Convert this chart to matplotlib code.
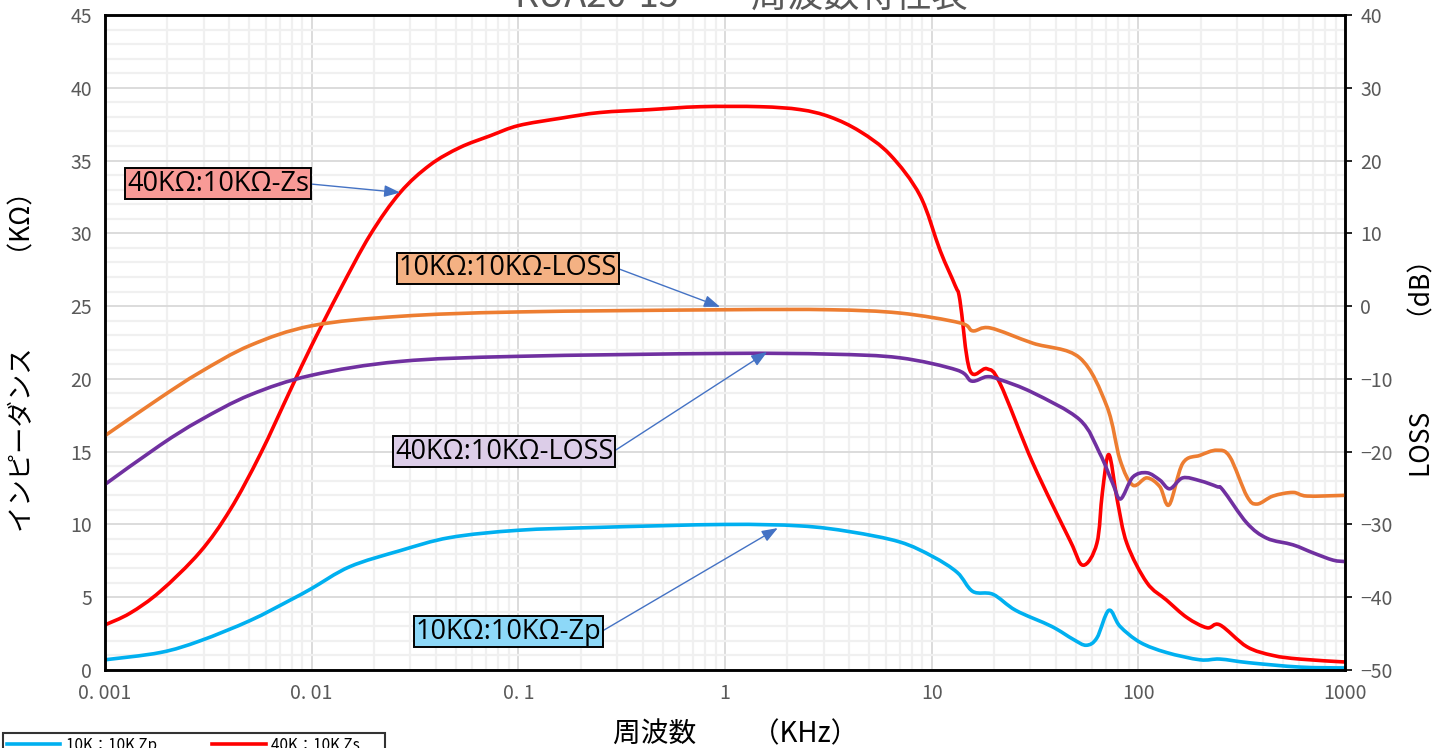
import matplotlib
matplotlib.use('Agg')
import numpy as np
import matplotlib.pyplot as plt
from matplotlib.path import Path
from matplotlib.patches import PathPatch
from matplotlib.lines import Line2D
from matplotlib.ticker import FixedLocator, NullFormatter

plt.rcParams['font.family'] = ['Noto Sans CJK JP', 'DejaVu Sans']

# 10K:10K Zp (kOhm, left axis)
zp_f = [0.001, 0.00185, 0.00288, 0.00504, 0.00787, 0.01, 0.0153, 0.0268, 0.0467, 0.1, 0.248,
        1.0, 2.31, 4.03, 7.0, 10.1, 13.3, 15.8, 19.8, 25.5, 38.0, 48.5, 56.0, 63.0, 72.0,
        81.5, 102, 137, 199, 248, 343, 605, 1000]
zp_v = [0.7, 1.2, 2.0, 3.4, 4.8, 5.6, 7.1, 8.2, 9.1, 9.6, 9.8,
        10.0, 9.9, 9.5, 8.8, 7.8, 6.7, 5.4, 5.2, 4.1, 3.0, 2.1, 1.7, 2.2, 4.1,
        3.0, 1.9, 1.2, 0.7, 0.75, 0.5, 0.2, 0.14]

# 40K:10K Zs (kOhm, left axis)
zs_f = [0.001, 0.00132, 0.00185, 0.00288, 0.00403, 0.00563, 0.00787, 0.01, 0.0137, 0.0192,
        0.0268, 0.0374, 0.0522, 0.073, 0.1, 0.159, 0.248, 0.433, 0.757, 1.48, 2.31, 3.22,
        4.5, 6.29, 8.78, 11.0, 13.0, 13.7, 15.3, 18.5, 21.4, 30.9, 46.7, 54.0, 63.0, 67.0,
        72.0, 79.0, 88.0, 110, 137, 172, 215, 248, 335, 448, 605, 1000]
zs_v = [3.1, 3.9, 5.4, 8.1, 11.0, 14.8, 19.2, 22.3, 26.1, 29.9,
        32.8, 34.7, 35.9, 36.7, 37.4, 37.9, 38.3, 38.5, 38.7, 38.7, 38.5, 38.0,
        37.0, 35.4, 32.6, 28.8, 26.4, 25.4, 20.6, 20.7, 19.7, 14.2, 8.9, 7.2, 8.7, 12.2,
        14.8, 11.7, 8.7, 6.0, 4.8, 3.6, 2.9, 3.1, 1.6, 1.0, 0.75, 0.55]

# 10K:10K LOSS (dB, right axis)
l10_f = [0.001, 0.00185, 0.00288, 0.00504, 0.01, 0.0268, 0.1, 1.0, 3.22, 7.0, 13.7, 15.8,
         19.2, 30.9, 52.0, 70.5, 81.5, 94.0, 110, 127, 141, 164, 199, 240, 277, 335, 375,
         448, 560, 655, 1000]
l10_v = [-17.8, -12.6, -9.1, -5.4, -2.7, -1.4, -0.8, -0.5, -0.5, -0.95, -2.3, -3.4,
         -3.0, -5.1, -7.1, -13.8, -21.1, -24.6, -23.6, -24.8, -27.3, -21.6, -20.5, -19.8,
         -20.7, -26.1, -27.2, -26.1, -25.6, -26.1, -26.0]

# 40K:10K LOSS (dB, right axis)
l40_f = [0.001, 0.00185, 0.00288, 0.00504, 0.01, 0.0268, 0.1, 1.0, 3.22, 7.0, 13.3, 15.6,
         18.5, 21.4, 30.9, 52.0, 65.0, 75.0, 82.0, 94.0, 110, 127, 142, 164, 199, 240, 257,
         335, 419, 560, 700, 874, 1000]
l40_v = [-24.5, -19.1, -15.7, -12.2, -9.5, -7.6, -6.9, -6.5, -6.6, -7.1, -8.8, -10.3,
         -9.7, -10.1, -11.9, -15.6, -20.2, -24.3, -26.5, -23.5, -22.9, -23.9, -25.1, -23.6,
         -24.0, -24.8, -25.3, -29.8, -31.9, -32.8, -33.9, -34.9, -35.1]

x_ticks = [0.001, 0.01, 0.1, 1, 10, 100, 1000]
x_labels = ['0. 001', '0. 01', '0. 1', '1', '10', '100', '1000']


def smooth_line(a, xs, ys, color, lw):
    # Excel-like smoothed line: Catmull-Rom bezier through the points (log-x space)
    pts = np.column_stack([np.log10(xs), ys])
    n = len(pts)
    verts = [pts[0]]
    codes = [Path.MOVETO]
    for i in range(n - 1):
        p0 = pts[max(i - 1, 0)]
        p1 = pts[i]
        p2 = pts[i + 1]
        p3 = pts[min(i + 2, n - 1)]
        verts += [p1 + (p2 - p0) / 6, p2 - (p3 - p1) / 6, p2]
        codes += [Path.CURVE4] * 3
    v = np.array(verts)
    v[:, 0] = 10 ** v[:, 0]
    a.add_patch(PathPatch(Path(v, codes), fill=False, ec=color, lw=lw,
                          capstyle='round', joinstyle='round'))


fig = plt.figure(figsize=(14.47, 7.48), dpi=100)
ax = fig.add_axes([105/1447, 1 - 670/748, 1240/1447, 655/748])
ax2 = ax.twinx()

ax.set_xscale('log')
ax.set_xlim(0.001, 1000)
ax.set_ylim(0, 45)
ax2.set_ylim(-50, 40)

# grid
ax.xaxis.set_major_locator(FixedLocator(x_ticks))
minors = [m * 10.0 ** e for e in range(-3, 3) for m in range(2, 10)]
ax.xaxis.set_minor_locator(FixedLocator(minors))
ax.xaxis.set_minor_formatter(NullFormatter())
ax.set_xticklabels(x_labels)
ax.set_yticks(range(0, 46, 5))
ax.set_yticks(range(0, 46), minor=True)
ax2.set_yticks(range(-50, 41, 10))
ax.grid(which='minor', color='#F0F0F0', lw=1.6)
ax.grid(which='major', color='#D9D9D9', lw=1.3)
ax.set_axisbelow(True)

ax.tick_params(which='both', left=False, bottom=False, labelsize=14, labelcolor='#595959', pad=6)
ax2.tick_params(right=True, length=5, width=1.2, labelsize=14, labelcolor='#595959', pad=6)
for a in (ax, ax2):
    for s in a.spines.values():
        s.set_linewidth(1.8)
        s.set_color('black')

lw = 2.6
c_zp, c_zs, c_l10, c_l40 = '#00B0F0', '#FF0000', '#ED7D31', '#7030A0'
smooth_line(ax, zp_f, zp_v, c_zp, lw)
smooth_line(ax, zs_f, zs_v, c_zs, lw)
smooth_line(ax2, l10_f, l10_v, c_l10, lw)
smooth_line(ax2, l40_f, l40_v, c_l40, lw)

ax.set_xlabel('周波数　　（KHz）', fontsize=20, labelpad=11)
ax.xaxis.label.set_x(0.509)
ax.set_ylabel('インピーダンス　　　（KΩ）', fontsize=19)
ax.yaxis.set_label_coords(-0.055, 0.481)
ax2.set_ylabel('LOSS　　　（dB）', fontsize=19)
ax2.yaxis.set_label_coords(1.052, 0.471)

fig.text(741/1447, 1 - 7/748, 'KUA20-15　　周波数特性表', ha='center', va='baseline',
         fontsize=26, color='#595959')

# callouts
box_font = ['Open Sans', 'DejaVu Sans']
arrow = dict(arrowstyle='-|>,head_length=0.8,head_width=0.3', color='#4472C4', lw=1.0,
             mutation_scale=12, relpos=(1, 0.5), shrinkA=0, shrinkB=0)
callouts = [
    (ax, '40KΩ:10KΩ-Zs', (0.0268, 32.8), (0.00352, 33.4), '#F89A96'),
    (ax2, '10KΩ:10KΩ-LOSS', (0.946, -0.1), (0.0891, 5.2), '#F4B183'),
    (ax2, '40KΩ:10KΩ-LOSS', (1.6, -6.3), (0.0853, -20.0), '#DCCDE8'),
    (ax, '10KΩ:10KΩ-Zp', (1.8, 9.75), (0.0897, 2.64), '#8DD8F8'),
]
for a, txt, tip, pos, fc in callouts:
    a.annotate(txt, xy=tip, xytext=pos, ha='center', va='center', fontsize=19.5,
               family=box_font, arrowprops=arrow,
               bbox=dict(boxstyle='square,pad=0.06', fc=fc, ec='black', lw=1.4))

handles = [Line2D([], [], color=c, lw=lw) for c in (c_zp, c_l10, c_zs, c_l40)]
labels = ['10K：10K Zp', '10K：10K LOSS', '40K：10K Zs', '40K：10K LOSS']
leg = fig.legend(handles, labels, loc='upper left', bbox_to_anchor=(3/1447, 1 - 733/748),
                 ncol=2, fontsize=11, frameon=True, fancybox=False, edgecolor='black',
                 handlelength=3.5, handletextpad=0.35, columnspacing=2.4,
                 borderaxespad=0, borderpad=0.25)
leg.get_frame().set_linewidth(1.5)

fig.savefig('out.png', dpi=100)
